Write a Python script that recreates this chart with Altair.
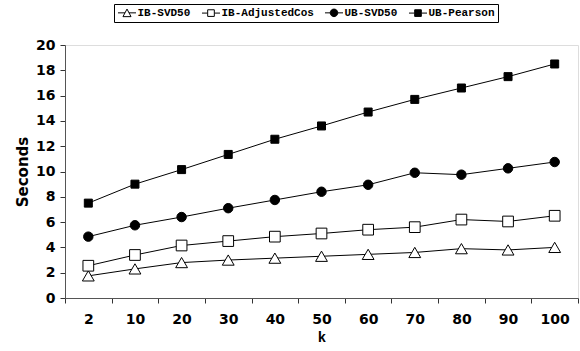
import altair as alt
import pandas as pd

# Neighbourhood size k and run time (seconds) for each recommender
k_values = ["2", "10", "20", "30", "40", "50", "60", "70", "80", "90", "100"]
series_names = ["IB-SVD50", "IB-AdjustedCos", "UB-SVD50", "UB-Pearson"]
ib_svd50 = [1.75, 2.3, 2.8, 3.0, 3.15, 3.3, 3.45, 3.6, 3.9, 3.8, 4.0]
ib_adjusted_cos = [2.55, 3.4, 4.15, 4.5, 4.85, 5.1, 5.4, 5.6, 6.2, 6.05, 6.5]
ub_svd50 = [4.85, 5.75, 6.4, 7.1, 7.75, 8.4, 8.95, 9.9, 9.75, 10.25, 10.75]
ub_pearson = [7.5, 9.0, 10.15, 11.35, 12.55, 13.6, 14.7, 15.7, 16.6, 17.5, 18.5]
y_ticks = list(range(0, 21, 2))

rows = []
for name, vals in zip(series_names, [ib_svd50, ib_adjusted_cos, ub_svd50, ub_pearson]):
    for k, v in zip(k_values, vals):
        rows.append({"k": k, "series": name, "seconds": v})
df = pd.DataFrame(rows)

mono = "Liberation Mono"
sans = "DejaVu Sans"

x_enc = alt.X(
    "k:N",
    sort=k_values,
    scale=alt.Scale(type="band", paddingInner=0, paddingOuter=0),
    axis=alt.Axis(
        title="k", titleFont=mono, titleFontSize=14, titleFontWeight="bold",
        titleColor="black", titlePadding=4,
        labelFont=sans, labelFontSize=14, labelFontWeight="bold", labelColor="black",
        labelAngle=0, labelPadding=9, tickBand="extent", tickSize=5,
        tickColor="#333", domainColor="#555", grid=False,
    ),
)
y_enc = alt.Y(
    "seconds:Q",
    scale=alt.Scale(domain=[0, 20], nice=False, zero=True),
    axis=alt.Axis(
        title="Seconds", titleFont=sans, titleFontSize=15, titleFontWeight="bold",
        titleColor="black", titlePadding=5,
        values=y_ticks, labelFont=sans, labelFontSize=14, labelFontWeight="bold",
        labelColor="black", labelPadding=5, tickSize=5,
        tickColor="#333", domainColor="#555", grid=False,
    ),
)

base = alt.Chart(df)

lines = base.mark_line(color="black", strokeWidth=1).encode(
    x=x_enc, y=y_enc, detail="series:N"
)

points = base.mark_point(filled=True, stroke="black", strokeWidth=1, opacity=1).encode(
    x=x_enc,
    y=y_enc,
    shape=alt.Shape("series:N", scale=alt.Scale(
        domain=series_names,
        range=["triangle-up", "square", "circle", "square"]), legend=None),
    fill=alt.Fill("series:N", scale=alt.Scale(
        domain=series_names, range=["white", "white", "black", "black"]), legend=None),
    size=alt.Size("series:N", scale=alt.Scale(
        domain=series_names, range=[140, 64, 70, 81]), legend=None),
)

# Legend symbols: marker with a short line stub on each side
stub = "M-1.9,0H-0.75M0.75,0H1.9"
legend_paths = [
    "M-1.9,0H-0.42M0.42,0H1.9M0,-0.8L0.85,0.8L-0.85,0.8Z",
    stub + "M-0.7,-0.7H0.7V0.7H-0.7Z",
    stub + "M0.8,0A0.8,0.8,0,1,1,-0.8,0A0.8,0.8,0,1,1,0.8,0Z",
    stub + "M-0.7,-0.7H0.7V0.7H-0.7Z",
]

legend_layer = base.transform_filter("false").mark_point(
    filled=True, stroke="black", strokeWidth=1, opacity=1
).encode(
    x=x_enc,
    y=y_enc,
    shape=alt.Shape("series:N", scale=alt.Scale(domain=series_names, range=legend_paths),
                    legend=alt.Legend(
                        title=None, orient="none", legendX=49, legendY=-41,
                        direction="horizontal", columns=4, columnPadding=8,
                        labelFont=mono, labelFontSize=11, labelFontWeight="bold",
                        labelColor="black", labelOffset=5, symbolSize=90,
                        symbolStrokeWidth=1, symbolOffset=4.5,
                        padding=3, strokeColor="black", fillColor="white",
                    )),
    fill=alt.Fill("series:N", scale=alt.Scale(
        domain=series_names, range=["white", "white", "black", "black"])),
)

chart = (
    alt.layer(lines, points, legend_layer)
    .resolve_scale(shape="independent", fill="independent")
    .properties(
        width=513, height=253,
        autosize=alt.AutoSizeParams(type="none"),
        padding={"left": 65, "top": 45, "right": 2, "bottom": 53},
    )
    .configure_view(stroke=None)
    .configure(background="white")
)

chart.save("out.html", embed_options={"renderer": "svg", "actions": False})
